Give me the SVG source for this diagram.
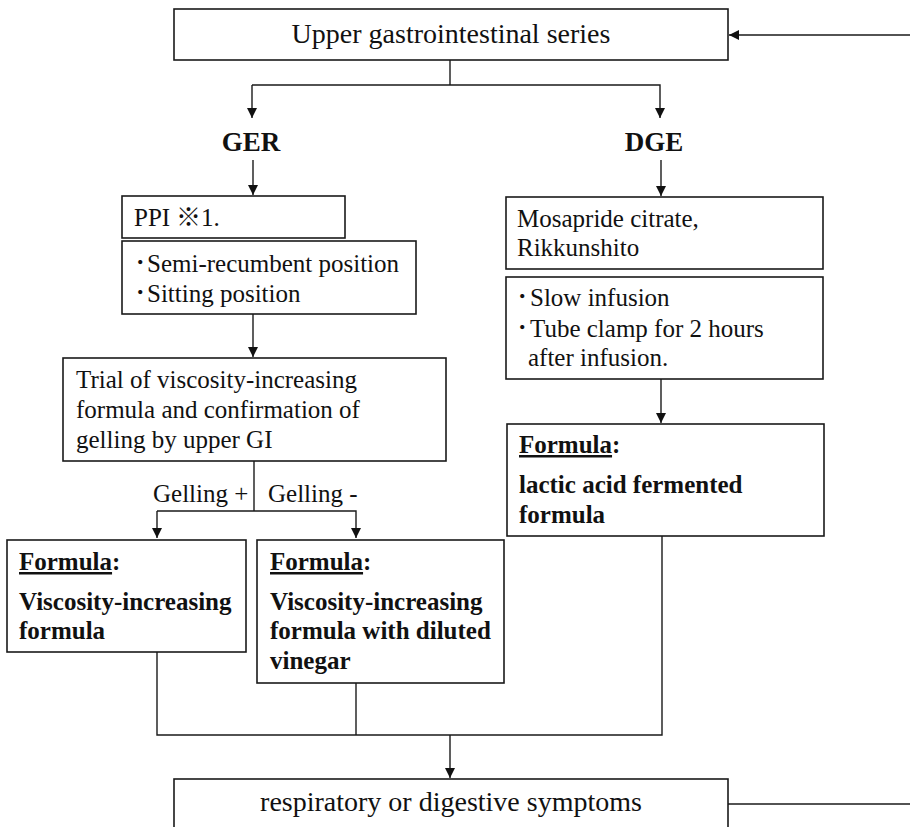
<svg xmlns="http://www.w3.org/2000/svg" width="910" height="827" viewBox="0 0 910 827">
<style>
.box{fill:#fff;stroke:#1a1a1a;stroke-width:1.6}
.ln{fill:none;stroke:#1a1a1a;stroke-width:1.4}
text{font-family:"Liberation Serif","Noto Sans CJK JP",serif;fill:#111;font-size:25px}
.b{font-weight:bold}
.t{font-size:28px}
.h{font-size:27px;font-weight:bold}
</style>
<defs>
<marker id="ah" markerWidth="10" markerHeight="12" refX="10" refY="5" orient="auto" markerUnits="userSpaceOnUse" viewBox="0 0 10 10">
<path d="M0,0 L10,5 L0,10 Z" fill="#111"/>
</marker>
</defs>
<rect width="910" height="827" fill="#fff"/>
<g id="connectors">
<line class="ln" x1="910" y1="35" x2="729" y2="35" marker-end="url(#ah)"/>
<polyline class="ln" points="450,60 450,85"/>
<polyline class="ln" points="252,85 660,85 660,118" marker-end="url(#ah)"/>
<line class="ln" x1="252" y1="85" x2="252" y2="118" marker-end="url(#ah)"/>
<line class="ln" x1="253" y1="160" x2="253" y2="195" marker-end="url(#ah)"/>
<line class="ln" x1="661" y1="160" x2="661" y2="196" marker-end="url(#ah)"/>
<line class="ln" x1="253" y1="314" x2="253" y2="357" marker-end="url(#ah)"/>
<line class="ln" x1="661" y1="379" x2="661" y2="423" marker-end="url(#ah)"/>
<polyline class="ln" points="254,461 254,511"/>
<polyline class="ln" points="157,511 356,511 356,538" marker-end="url(#ah)"/>
<line class="ln" x1="157" y1="511" x2="157" y2="538" marker-end="url(#ah)"/>
<polyline class="ln" points="157,652 157,735 662,735 662,536"/>
<line class="ln" x1="356" y1="683" x2="356" y2="735"/>
<line class="ln" x1="450" y1="735" x2="450" y2="778" marker-end="url(#ah)"/>
<line class="ln" x1="728" y1="804" x2="910" y2="804"/>
<text x="153" y="502">Gelling +</text>
<text x="268" y="502">Gelling -</text>
</g>
<g id="upper-gi">
<rect class="box" x="174" y="9" width="554" height="51"/>
<text class="t" x="451" y="43" text-anchor="middle">Upper gastrointestinal series</text>
</g>
<g id="ger">
<text class="h" x="251" y="151" text-anchor="middle">GER</text>
</g>
<g id="dge">
<text class="h" x="654" y="151" text-anchor="middle">DGE</text>
</g>
<g id="ppi">
<rect class="box" x="122" y="196" width="223" height="42"/>
<text x="134" y="226">PPI<tspan x="176">※</tspan><tspan x="201">1.</tspan></text>
</g>
<g id="position">
<rect class="box" x="122" y="241" width="294" height="73"/>
<text x="134" y="272">･<tspan x="147">Semi-recumbent position</tspan></text>
<text x="134" y="302">･<tspan x="147">Sitting position</tspan></text>
</g>
<g id="trial">
<rect class="box" x="63" y="358" width="383" height="103"/>
<text x="76" y="388">Trial of viscosity-increasing</text>
<text x="76" y="418">formula and confirmation of</text>
<text x="76" y="448">gelling by upper GI</text>
</g>
<g id="formula-plus">
<rect class="box" x="7" y="540" width="239" height="112"/>
<text class="b" x="19" y="570"><tspan text-decoration="underline">Formula</tspan>:</text>
<text class="b" x="19" y="610">Viscosity-increasing</text>
<text class="b" x="19" y="639">formula</text>
</g>
<g id="formula-minus">
<rect class="box" x="257" y="540" width="247" height="143"/>
<text class="b" x="270" y="570"><tspan text-decoration="underline">Formula</tspan>:</text>
<text class="b" x="270" y="610">Viscosity-increasing</text>
<text class="b" x="270" y="639">formula with diluted</text>
<text class="b" x="270" y="669">vinegar</text>
</g>
<g id="mosapride">
<rect class="box" x="506" y="197" width="317" height="72"/>
<text x="517" y="227">Mosapride citrate,</text>
<text x="517" y="256">Rikkunshito</text>
</g>
<g id="infusion">
<rect class="box" x="506" y="277" width="317" height="102"/>
<text x="516" y="306">･<tspan x="530">Slow infusion</tspan></text>
<text x="516" y="337">･<tspan x="530">Tube clamp for 2 hours</tspan></text>
<text x="528" y="366">after infusion.</text>
</g>
<g id="formula-lactic">
<rect class="box" x="507" y="424" width="317" height="112"/>
<text class="b" x="519" y="453"><tspan text-decoration="underline">Formula</tspan>:</text>
<text class="b" x="519" y="493">lactic acid fermented</text>
<text class="b" x="519" y="523">formula</text>
</g>
<g id="symptoms">
<rect class="box" x="174" y="779" width="554" height="70"/>
<text class="t" x="451" y="811" text-anchor="middle">respiratory or digestive symptoms</text>
</g>
</svg>
